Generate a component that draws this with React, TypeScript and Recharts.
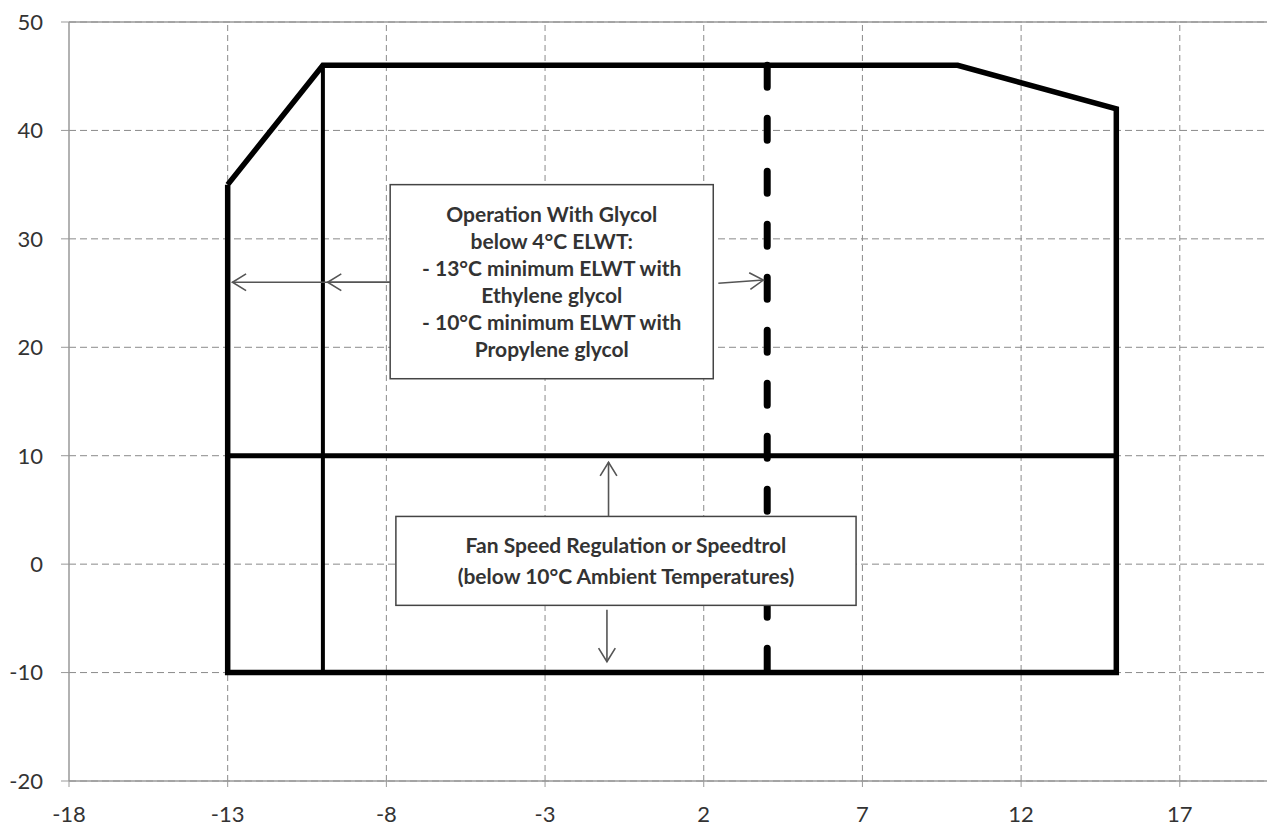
import React from 'react';
import {
    ComposedChart,
    Line,
    XAxis,
    YAxis,
    CartesianGrid,
    ReferenceArea,
    ReferenceLine,
} from 'recharts';

// axis ticks
const xTicks = [-18, -13, -8, -3, 2, 7, 12, 17];
const yTicks = [-20, -10, 0, 10, 20, 30, 40, 50];

// operating envelope (ambient temp vs ELWT)
const envelopeX = [-13, -10, 10, 15, 15, -13, -13];
const envelopeY = [35, 46, 46, 42, -10, -10, 35];

// glycol limit at -10 ambient
const dividerX = [-10, -10];
const dividerY = [46, -10];

// fan speed regulation limit (10°C)
const fanLimitX = [-13, 15];
const fanLimitY = [10, 10];

// 4°C ELWT dashed limit
const glycolLimitX = [4, 4];
const glycolLimitY = [46, -10];

// annotation boxes
const glycolBoxX = [-7.88, 2.3];
const glycolBoxY = [17.1, 35];
const glycolText = [
    'Operation With Glycol',
    'below 4°C ELWT:',
    '- 13°C minimum ELWT with',
    'Ethylene glycol',
    '- 10°C minimum ELWT with',
    'Propylene glycol',
];

const fanBoxX = [-7.7, 6.8];
const fanBoxY = [-3.8, 4.4];
const fanText = ['Fan Speed Regulation or Speedtrol', '(below 10°C Ambient Temperatures)'];

// arrows: [fromX, fromY, toX, toY]
const arrows = [
    [-7.88, 26, -12.85, 26],
    [-7.88, 26, -9.85, 26],
    [2.46, 25.9, 3.88, 26.2],
    [-1, 4.4, -1, 9.4],
    [-1.05, -4.2, -1.05, -9.0],
];

const zip = (xs: number[], ys: number[]) => xs.map((x, i) => ({ x, y: ys[i] }));

const envelopeData = zip(envelopeX, envelopeY);
const dividerData = zip(dividerX, dividerY);
const fanLimitData = zip(fanLimitX, fanLimitY);
const glycolLimitData = zip(glycolLimitX, glycolLimitY);

const FONT = 'Lato, "Open Sans", sans-serif';
const GRID = '#8a8a8a';

const makeBox = (lines: string[], lineHeight: number) => (props: any) => {
    const { x, y, width, height } = props;
    const cx = x + width / 2;
    const startY = y + height / 2 - ((lines.length - 1) * lineHeight) / 2;
    return (
        <g>
            <rect x={x} y={y} width={width} height={height} fill="#fff" stroke="#444" strokeWidth={1.5} />
            <text
                x={cx}
                textAnchor="middle"
                fontFamily={FONT}
                fontSize={21}
                fontWeight={700}
                fill="#333"
            >
                {lines.map((t, i) => (
                    <tspan key={i} x={cx} y={startY + i * lineHeight} dy="0.35em">
                        {t}
                    </tspan>
                ))}
            </text>
        </g>
    );
};

const ArrowShape = (props: any) => {
    const { x1, y1, x2, y2 } = props;
    const ang = Math.atan2(y2 - y1, x2 - x1);
    const len = 16;
    const spread = 0.55;
    const ax = x2 - len * Math.cos(ang - spread);
    const ay = y2 - len * Math.sin(ang - spread);
    const bx = x2 - len * Math.cos(ang + spread);
    const by = y2 - len * Math.sin(ang + spread);
    return (
        <g>
            <line x1={x1} y1={y1} x2={x2} y2={y2} stroke="#555" strokeWidth={1.6} />
            <polyline
                points={`${ax},${ay} ${x2},${y2} ${bx},${by}`}
                fill="none"
                stroke="#555"
                strokeWidth={1.6}
            />
        </g>
    );
};

export default function App() {
    // plot runs a little past the right edge of the picture (cropped, like the source)
    return (
        <div style={{ position: 'absolute', left: 0, top: 0, width: 1267, height: 830, overflow: 'hidden', background: '#fff' }}>
            <ComposedChart
                width={1275}
                height={830}
                margin={{ top: 22, right: 0, bottom: 0, left: 0 }}
            >
                <CartesianGrid stroke={GRID} strokeDasharray="7 4" vertical={false} />
                {xTicks.slice(1).map((t) => (
                    <ReferenceLine key={t} x={t} stroke={GRID} strokeDasharray="6 4" />
                ))}
                <XAxis
                    type="number"
                    dataKey="x"
                    domain={[-18, 20]}
                    ticks={xTicks}
                    interval={0}
                    allowDataOverflow
                    height={49}
                    axisLine={{ stroke: '#999', strokeWidth: 1.5 }}
                    tickLine={{ stroke: '#999' }}
                    tickSize={6}
                    tickMargin={19}
                    tick={{ fontSize: 22, fill: '#333', fontFamily: FONT }}
                />
                <YAxis
                    type="number"
                    domain={[-20, 50]}
                    ticks={yTicks}
                    interval={0}
                    width={69}
                    axisLine={{ stroke: '#999', strokeWidth: 1.5 }}
                    tickLine={{ stroke: '#999' }}
                    tickSize={8}
                    tickMargin={18}
                    tick={{ fontSize: 22, fill: '#333', fontFamily: FONT }}
                />
                <ReferenceLine y={50} stroke="#999" strokeWidth={1.5} />

                <Line data={envelopeData} dataKey="y" stroke="#000" strokeWidth={5.5} dot={false} activeDot={false} isAnimationActive={false} />
                <Line data={dividerData} dataKey="y" stroke="#000" strokeWidth={4} dot={false} activeDot={false} isAnimationActive={false} />
                <Line data={fanLimitData} dataKey="y" stroke="#000" strokeWidth={5} dot={false} activeDot={false} isAnimationActive={false} />
                <Line
                    data={glycolLimitData}
                    dataKey="y"
                    stroke="#000"
                    strokeWidth={7}
                    strokeDasharray="22 31"
                    strokeLinecap="round"
                    dot={false}
                    activeDot={false}
                    isAnimationActive={false}
                />

                {arrows.map((a, i) => (
                    <ReferenceLine
                        key={i}
                        segment={[{ x: a[0], y: a[1] }, { x: a[2], y: a[3] }]}
                        shape={ArrowShape}
                        zIndex={900}
                    />
                ))}

                <ReferenceArea
                    x1={glycolBoxX[0]}
                    x2={glycolBoxX[1]}
                    y1={glycolBoxY[0]}
                    y2={glycolBoxY[1]}
                    shape={makeBox(glycolText, 27)}
                    zIndex={800}
                />
                <ReferenceArea
                    x1={fanBoxX[0]}
                    x2={fanBoxX[1]}
                    y1={fanBoxY[0]}
                    y2={fanBoxY[1]}
                    shape={makeBox(fanText, 31)}
                    zIndex={800}
                />
            </ComposedChart>
        </div>
    );
}
